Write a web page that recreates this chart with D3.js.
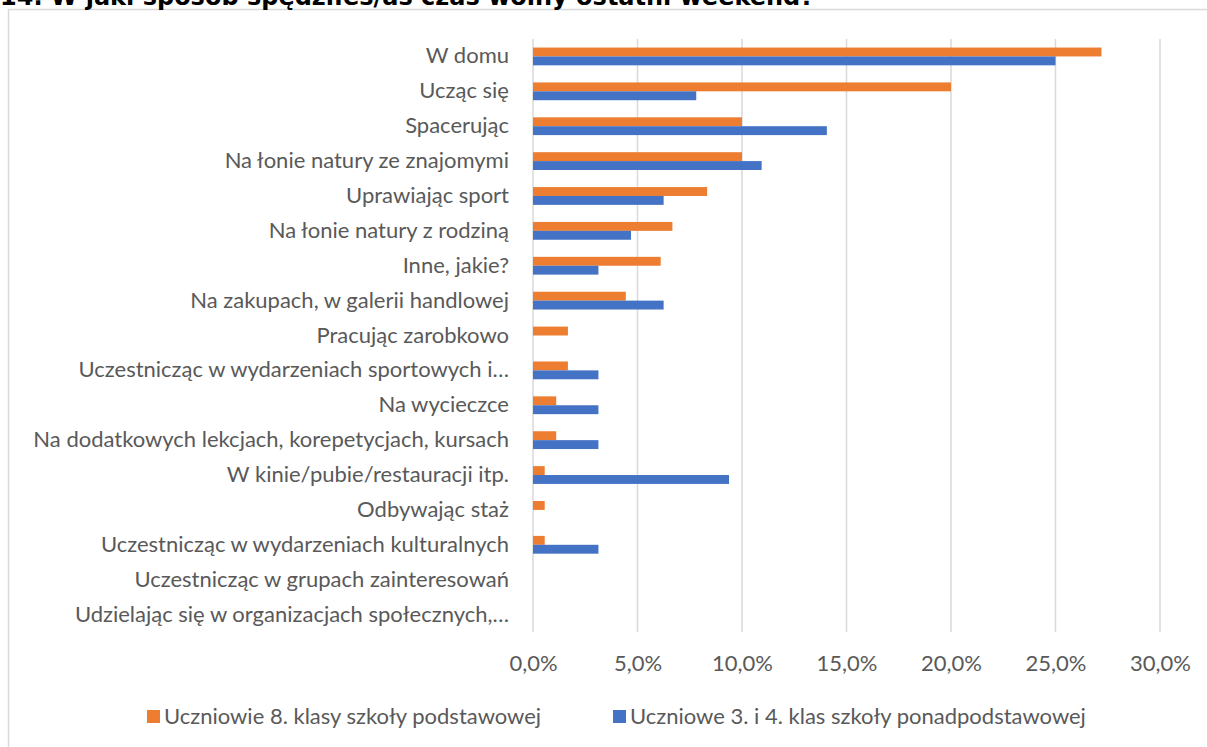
<!DOCTYPE html>
<html>
<head>
<meta charset="utf-8">
<script src="https://cdn.jsdelivr.net/npm/d3@7"></script>
<style>
  body { margin: 0; background: #fff; }
  svg { display: block; }
</style>
</head>
<body>
<div class="canvas"></div>
<script>
const categories = [
  'W domu',
  'Ucząc się',
  'Spacerując',
  'Na łonie natury ze znajomymi',
  'Uprawiając sport',
  'Na łonie natury z rodziną',
  'Inne, jakie?',
  'Na zakupach, w galerii handlowej',
  'Pracując zarobkowo',
  'Uczestnicząc w wydarzeniach sportowych i…',
  'Na wycieczce',
  'Na dodatkowych lekcjach, korepetycjach, kursach',
  'W kinie/pubie/restauracji itp.',
  'Odbywając staż',
  'Uczestnicząc w wydarzeniach kulturalnych',
  'Uczestnicząc w grupach zainteresowań',
  'Udzielając się w organizacjach społecznych,…'
];
const primaryValues = [27.2, 20.0, 10.0, 10.0, 8.33, 6.67, 6.11, 4.44, 1.67, 1.67, 1.11, 1.11, 0.56, 0.56, 0.56, 0, 0];
const secondaryValues = [25.0, 7.81, 14.06, 10.94, 6.25, 4.69, 3.13, 6.25, 0, 3.13, 3.13, 3.13, 9.38, 0, 3.13, 0, 0];
const seriesNames = ['Uczniowie 8. klasy szkoły podstawowej', 'Uczniowe 3. i 4. klas szkoły ponadpodstawowej'];
const xTicks = [0, 5, 10, 15, 20, 25, 30];
const title = '14. W jaki sposób spędziłeś/aś czas wolny ostatni weekend?';

const width = 1207;
const height = 747;
const colors = ['#ED7D31', '#4472C4'];
const textColor = '#595959';
const font = 'Lato, "Open Sans", sans-serif';
const fontSize = 22;

const svg = d3.select('.canvas')
  .append('svg')
  .attr('width', width)
  .attr('height', height);

// chart frame
svg.append('rect')
  .attr('x', 8.5)
  .attr('y', 9.5)
  .attr('width', 1220)
  .attr('height', 760)
  .attr('fill', '#fff')
  .attr('stroke', '#d9d9d9')
  .attr('stroke-width', 1.5);

svg.append('text')
  .attr('x', 0)
  .attr('y', 5)
  .attr('font-family', '"DejaVu Sans", Verdana, sans-serif')
  .attr('font-weight', 'bold')
  .attr('font-size', 24)
  .attr('fill', '#000')
  .text(title);

const plot = { left: 533, right: 1160, top: 39, bottom: 632 };

const x = d3.scaleLinear().domain([0, 30]).range([plot.left, plot.right]);
const y = d3.scaleBand().domain(categories).range([plot.top, plot.bottom])
  .paddingInner(0.49).paddingOuter(0.245);
const ySub = d3.scaleBand().domain([0, 1]).range([0, y.bandwidth()]);

const pl = d3.formatLocale({ decimal: ',', thousands: ' ', grouping: [3], currency: ['', ' zł'] });
const fmt = pl.format('.1f');

// gridlines
svg.append('g')
  .selectAll('line')
  .data(xTicks)
  .enter().append('line')
  .attr('x1', d => x(d))
  .attr('x2', d => x(d))
  .attr('y1', plot.top)
  .attr('y2', plot.bottom)
  .attr('stroke', '#d9d9d9')
  .attr('stroke-width', 1.5);

// bars
const rows = categories.map((c, i) => ({ cat: c, vals: [primaryValues[i], secondaryValues[i]] }));
const groups = svg.append('g')
  .selectAll('g')
  .data(rows)
  .enter().append('g')
  .attr('transform', d => `translate(0, ${y(d.cat)})`);

groups.selectAll('rect')
  .data(d => d.vals.map((v, s) => ({ v, s })))
  .enter().append('rect')
  .attr('x', x(0))
  .attr('y', d => ySub(d.s))
  .attr('width', d => x(d.v) - x(0))
  .attr('height', ySub.bandwidth())
  .attr('fill', d => colors[d.s]);

// category axis
const yAxisGroup = svg.append('g').attr('transform', `translate(${plot.left - 24}, 0)`);
yAxisGroup.call(d3.axisLeft(y).tickSize(0).tickPadding(0));
yAxisGroup.select('.domain').remove();
yAxisGroup.selectAll('text')
  .attr('font-family', font)
  .attr('font-size', fontSize)
  .attr('fill', textColor);

// value axis
const xAxisGroup = svg.append('g').attr('transform', `translate(0, ${plot.bottom})`);
xAxisGroup.call(d3.axisBottom(x).tickValues(xTicks).tickSize(0).tickPadding(23).tickFormat(d => fmt(d) + '%'));
xAxisGroup.select('.domain').remove();
xAxisGroup.selectAll('text')
  .attr('font-family', font)
  .attr('font-size', fontSize)
  .attr('fill', textColor);

// legend
const legendX = [147, 613];
const legend = svg.append('g')
  .selectAll('g')
  .data(seriesNames)
  .enter().append('g')
  .attr('transform', (d, i) => `translate(${legendX[i]}, 710)`);

legend.append('rect')
  .attr('width', 13)
  .attr('height', 13)
  .attr('fill', (d, i) => colors[i]);

legend.append('text')
  .attr('x', 17)
  .attr('y', 6.5)
  .attr('dy', '0.35em')
  .attr('font-family', font)
  .attr('font-size', fontSize)
  .attr('fill', textColor)
  .text(d => d);
</script>
</body>
</html>
